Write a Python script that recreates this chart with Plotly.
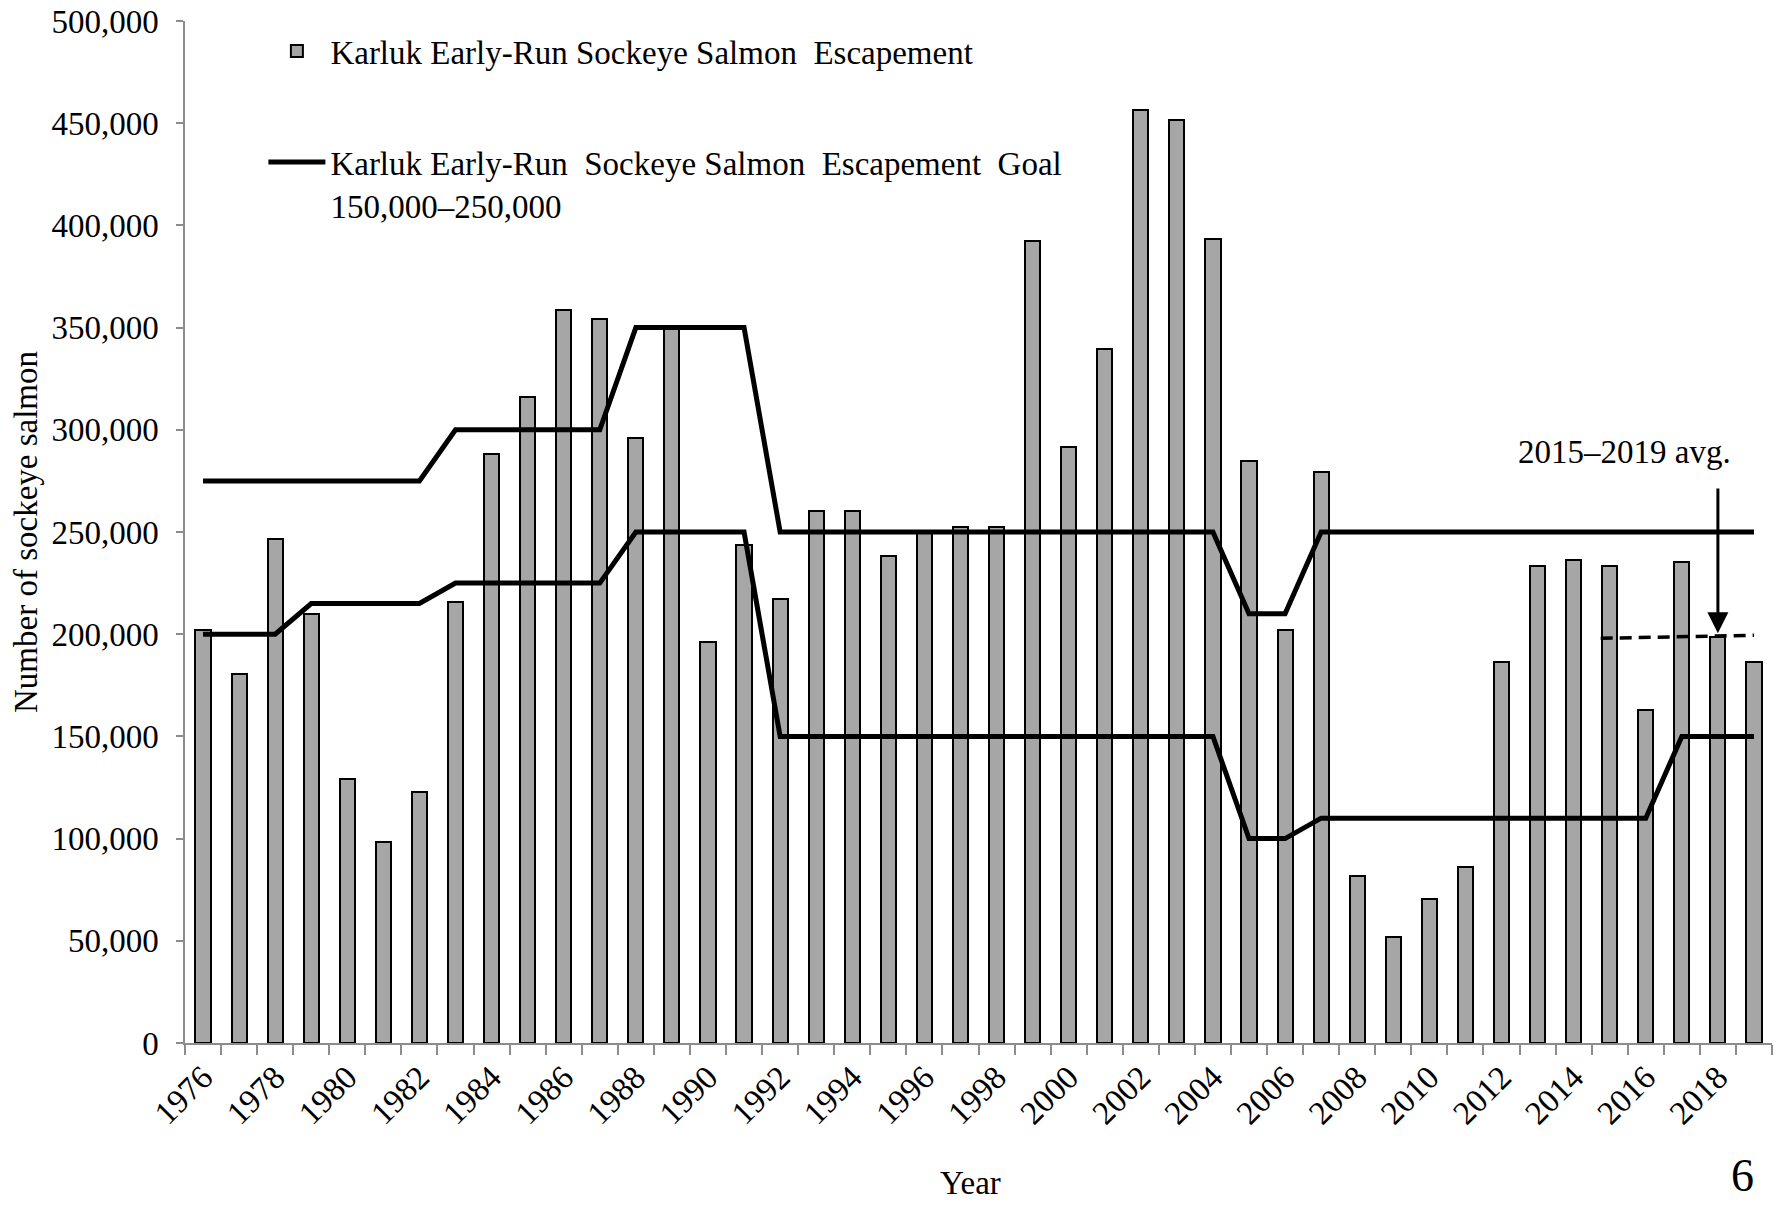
import plotly.graph_objects as go

# Karluk early-run sockeye escapement, 1976-2019
years = [1976, 1977, 1978, 1979, 1980, 1981, 1982, 1983, 1984, 1985, 1986,
         1987, 1988, 1989, 1990, 1991, 1992, 1993, 1994, 1995, 1996, 1997,
         1998, 1999, 2000, 2001, 2002, 2003, 2004, 2005, 2006, 2007, 2008,
         2009, 2010, 2011, 2012, 2013, 2014, 2015, 2016, 2017, 2018, 2019]

escapement = [202000, 180500, 246500, 210000, 129000, 98500, 123000, 216000,
              288000, 316000, 358500, 354000, 296000, 350000, 196000, 243500,
              217000, 260500, 260500, 238500, 250500, 252500, 252500, 392500,
              291500, 339500, 456500, 451500, 393500, 284500, 202000, 279500,
              81500, 52000, 70500, 86000, 186500, 233500, 236500, 233500,
              163000, 235500, 198500, 186500]

goal_upper = [275000, 275000, 275000, 275000, 275000, 275000, 275000,
              300000, 300000, 300000, 300000, 300000,
              350000, 350000, 350000, 350000,
              250000, 250000, 250000, 250000, 250000, 250000, 250000,
              250000, 250000, 250000, 250000, 250000, 250000,
              210000, 210000,
              250000, 250000, 250000, 250000, 250000, 250000, 250000,
              250000, 250000, 250000, 250000, 250000, 250000]

goal_lower = [200000, 200000, 200000,
              215000, 215000, 215000, 215000,
              225000, 225000, 225000, 225000, 225000,
              250000, 250000, 250000, 250000,
              150000, 150000, 150000, 150000, 150000, 150000, 150000,
              150000, 150000, 150000, 150000, 150000, 150000,
              100000, 100000,
              110000, 110000, 110000, 110000, 110000, 110000, 110000,
              110000, 110000, 110000,
              150000, 150000, 150000]

# 2015-2019 average reference line
avg_years = [2014.75, 2019]
avg_values = [198000, 199500]

label_years = [1976, 1978, 1980, 1982, 1984, 1986, 1988, 1990, 1992, 1994,
               1996, 1998, 2000, 2002, 2004, 2006, 2008, 2010, 2012, 2014,
               2016, 2018]

FONT = "Liberation Serif"
FS = 33
AXIS_GREY = "#8c8c8c"

fig = go.Figure()

fig.add_trace(go.Bar(
    x=years, y=escapement,
    name="Karluk Early-Run Sockeye Salmon  Escapement",
    marker=dict(color="#A6A6A6", line=dict(color="black", width=2)),
    width=0.42,
    legendgroup="bars",
))
fig.add_trace(go.Scatter(
    x=years, y=goal_upper, mode="lines",
    name="Karluk Early-Run  Sockeye Salmon  Escapement  Goal<br>150,000–250,000",
    line=dict(color="black", width=5),
    legendgroup="goal",
))
fig.add_trace(go.Scatter(
    x=years, y=goal_lower, mode="lines",
    line=dict(color="black", width=5),
    legendgroup="goal", showlegend=False,
))
fig.add_trace(go.Scatter(
    x=avg_years, y=avg_values, mode="lines",
    line=dict(color="black", width=3.5, dash="12px,7px"),
    showlegend=False,
))

# arrow + label for the 5-year average
fig.add_annotation(
    x=2018, y=200500, ax=2018, ay=272000,
    xref="x", yref="y", axref="x", ayref="y",
    showarrow=True, arrowhead=2, arrowsize=1.4, arrowwidth=3,
    arrowcolor="black", text="",
)
fig.add_annotation(
    x=2015.4, y=289000, xref="x", yref="y",
    text="2015–2019 avg.", showarrow=False,
    font=dict(family=FONT, size=FS, color="black"),
)

# axis titles and page number
fig.add_annotation(
    x=-0.1128, y=0.5, xref="paper", yref="paper",
    text="Number of sockeye salmon", textangle=-90, showarrow=False,
    font=dict(family=FONT, size=FS, color="black"),
)
fig.add_annotation(
    x=0.495, y=-0.157, xref="paper", yref="paper", yanchor="bottom",
    text="Year", showarrow=False,
    font=dict(family=FONT, size=FS, color="black"),
)
fig.add_annotation(
    x=0.99, y=-0.157, xref="paper", yref="paper", yanchor="bottom",
    text="6", showarrow=False,
    font=dict(family=FONT, size=46, color="black"),
)

fig.update_layout(
    width=1779, height=1205,
    margin=dict(l=185, r=7, t=21, b=162),
    plot_bgcolor="white", paper_bgcolor="white",
    font=dict(family=FONT, size=FS, color="black"),
    bargap=0,
    showlegend=True,
    legend=dict(
        x=0.0494, y=0.998, xanchor="left", yanchor="top",
        bgcolor="rgba(0,0,0,0)", tracegroupgap=65, valign="top",
        itemwidth=57, font=dict(family=FONT, size=FS, color="black"),
    ),
    hovermode=False,
)
fig.update_xaxes(
    range=[1975.5, 2019.5], automargin=False,
    tickmode="array", tickvals=label_years, ticktext=[str(y) for y in label_years],
    ticks="", tickangle=-45,
    minor=dict(tick0=1975.5, dtick=1, ticks="outside", ticklen=10,
               tickcolor=AXIS_GREY, tickwidth=1.5),
    showline=True, linecolor=AXIS_GREY, linewidth=1.5,
    showgrid=False, zeroline=False,
)
fig.update_yaxes(
    range=[0, 500000], dtick=50000, tickformat=",", automargin=False,
    ticks="outside", ticklen=7, tickcolor=AXIS_GREY, tickwidth=1.5,
    ticklabelstandoff=11, ticklabeloverflow="allow",
    showline=True, linecolor=AXIS_GREY, linewidth=1.5,
    showgrid=False, zeroline=False,
)

# drop the default 8px body margin so the figure fills the window exactly
fig.write_html(
    "out.html",
    config={"displayModeBar": False},
    post_script="document.body.style.margin='0px';",
)
